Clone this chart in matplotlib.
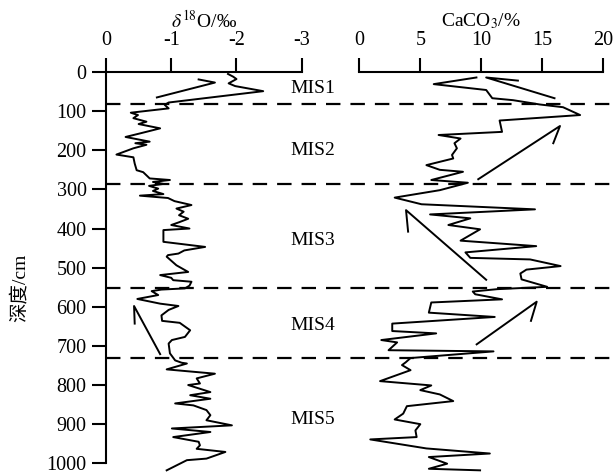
import matplotlib
matplotlib.use('Agg')
import matplotlib.pyplot as plt

plt.rcParams['font.family'] = ['Liberation Serif', 'Noto Sans CJK SC']
plt.rcParams['mathtext.fontset'] = 'stix'

# d18O profile (depth in cm, value in permil)
d18o_depth = [5, 12, 18, 29, 36, 49, 78, 84, 93, 104, 110, 118, 127, 133, 144, 157, 166,
              178, 182, 186, 195, 211, 218, 234, 251, 256, 272, 276, 281, 286, 291, 298,
              304, 312, 316, 322, 330, 340, 349, 357, 366, 375, 384, 391, 400, 404, 434,
              447, 456, 464, 468, 472, 494, 511, 519, 526, 532, 536, 546, 553, 556, 560,
              570, 580, 592, 598, 608, 622, 636, 641, 660, 677, 685, 694, 719, 737, 743,
              745, 760, 771, 783, 796, 800, 818, 826, 835, 847, 852, 864, 877, 890, 903,
              911, 920, 933, 945, 954, 963, 971, 988, 992, 1018]
d18o_value = [-1.87, -1.95, -2.0, -1.88, -1.98, -2.41, -0.96, -0.90, -0.96, -0.38, -0.49, -0.42,
              -0.62, -0.50, -0.83, -0.52, -0.30, -0.67, -0.45, -0.62, -0.42, -0.16, -0.42, -0.44,
              -0.47, -0.57, -0.67, -0.98, -0.72, -0.88, -0.66, -0.80, -0.72, -0.88, -0.52, -0.95,
              -1.05, -1.31, -1.08, -1.19, -1.12, -1.26, -1.12, -1.00, -1.28, -0.88, -0.88, -1.52,
              -1.20, -1.11, -0.95, -0.93, -1.08, -1.26, -0.83, -1.00, -1.03, -1.31, -1.28, -1.21,
              -0.85, -0.70, -0.80, -0.48, -0.83, -1.11, -0.96, -0.85, -0.86, -1.13, -1.29, -1.21,
              -1.01, -0.96, -0.98, -1.06, -1.16, -1.24, -0.93, -1.67, -1.39, -1.44, -1.26, -1.60,
              -1.29, -1.60, -1.06, -1.34, -1.54, -1.60, -1.54, -1.93, -1.01, -1.60, -1.03, -1.42,
              -1.44, -1.39, -1.83, -1.54, -1.24, -0.93]

# CaCO3 profile (depth in cm, percent)
caco3_depth = [14, 31, 46, 67, 72, 83, 90, 110, 124, 153, 161, 170, 182, 195, 212, 221, 238,
               250, 255, 276, 283, 302, 321, 338, 351, 364, 374, 391, 402, 431, 445, 461, 475,
               479, 496, 505, 515, 530, 549, 555, 561, 568, 581, 589, 615, 626, 643, 662, 668,
               685, 691, 711, 714, 731, 742, 749, 762, 790, 801, 813, 824, 841, 854, 873, 888,
               900, 916, 933, 939, 962, 975, 984, 1001, 1014, 1018]
caco3_value = [9.6, 6.1, 10.4, 10.9, 12.6, 14.8, 16.7, 18.1, 11.5, 11.7, 6.5, 8.3, 7.8, 8.0,
               7.6, 7.7, 5.5, 6.6, 8.5, 5.9, 8.9, 6.6, 2.9, 5.1, 14.4, 5.8, 9.1, 7.3, 9.9, 8.3,
               14.5, 8.7, 9.1, 14.0, 16.5, 13.7, 13.2, 13.3, 15.4, 11.3, 9.3, 9.5, 11.7, 5.9,
               5.7, 11.1, 2.7, 2.7, 6.3, 1.8, 3.1, 2.4, 11.0, 4.2, 3.8, 3.5, 4.2, 1.7, 5.9, 5.0,
               6.6, 7.7, 3.9, 3.6, 2.9, 5.0, 4.6, 4.7, 0.9, 5.5, 10.7, 5.7, 7.2, 5.7, 9.9]

# trend arrows: barb end, tip, tail
d18o_arrows = [([-1.42, -1.67, -0.78], [19, 27, 65]),
               ([-0.44, -0.43, -0.83], [643, 598, 721])]
caco3_arrows = [([13.0, 10.4, 16.0], [22, 14, 67]),
                ([15.9, 16.45, 9.75], [182, 138, 274]),
                ([4.0, 3.83, 10.4], [408, 353, 531]),
                ([14.07, 14.54, 9.62], [636, 587, 696])]

stage_bounds = [81, 285, 553, 731]
stage_names = ['MIS1', 'MIS2', 'MIS3', 'MIS4', 'MIS5']
stage_label_depth = [43, 200, 430, 648, 888]

W, H = 614, 474
fig = plt.figure(figsize=(W / 100, H / 100), dpi=100)
y0 = 1 - 463.3 / H
hgt = (463.3 - 72) / H

ax1 = fig.add_axes([106 / W, y0, (301.7 - 106) / W, hgt])
ax2 = fig.add_axes([359.3 / W, y0, (603.3 - 359.3) / W, hgt])
bg = fig.add_axes([106 / W, y0, (612 - 106) / W, hgt], zorder=-1)

lw = 1.4
ax1.plot(d18o_value, d18o_depth, color='black', lw=lw, clip_on=False)
for xs, ys in d18o_arrows:
    ax1.plot(xs, ys, color='black', lw=lw)
ax2.plot(caco3_value, caco3_depth, color='black', lw=lw, clip_on=False)
for xs, ys in caco3_arrows:
    ax2.plot(xs, ys, color='black', lw=lw)

for ax in (ax1, ax2):
    ax.set_ylim(1000, 0)
    ax.patch.set_alpha(0)
    ax.xaxis.tick_top()
    ax.spines['bottom'].set_visible(False)
    ax.spines['right'].set_visible(False)
    ax.spines['top'].set_linewidth(1.5)
    ax.tick_params(axis='x', direction='out', length=10, width=1.5, labelsize=14.5, pad=6)

ax1.set_xlim(0, -3)
ax1.set_xticks([0, -1, -2, -3])
ax1.set_xticklabels(['0', '-1', '-2', '-3'])
ax1.set_yticks(range(0, 1001, 100))
ax1.spines['left'].set_linewidth(1.5)
ax1.tick_params(axis='y', direction='out', length=10, width=1.5, labelsize=14.5, pad=4)

ax2.set_xlim(0, 20)
ax2.set_xticks([0, 5, 10, 15, 20])
ax2.spines['left'].set_visible(False)
ax2.set_yticks([])

bg.set_xlim(0, 1)
bg.set_ylim(1000, 0)
bg.axis('off')
for d in stage_bounds:
    bg.axhline(d, color='black', lw=1.6, linestyle=(0, (6.5, 4.5)))
for name, d in zip(stage_names, stage_label_depth):
    bg.text(0.365, d, name, fontsize=14, ha='left', va='center')

fig.text(204 / W, 1 - 21 / H, r'$\delta^{18}$O/‰', fontsize=14, ha='center', va='center')
fig.text(481 / W, 1 - 21 / H, r'CaCO$_3$/%', fontsize=14, ha='center', va='center')
fig.text(20 / W, 1 - 288 / H, '深度/cm', fontsize=14, rotation=90, ha='center', va='center')

fig.savefig('out.png', dpi=100)
